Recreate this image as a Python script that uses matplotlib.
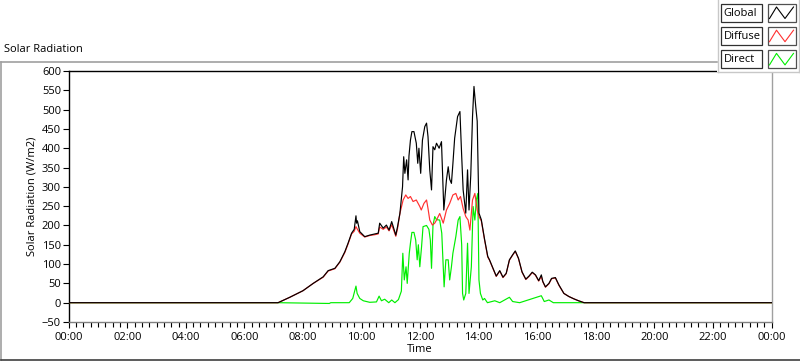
import matplotlib
matplotlib.use("Agg")
import matplotlib.pyplot as plt
from matplotlib.patches import Rectangle
from matplotlib.lines import Line2D
from matplotlib.ticker import MultipleLocator, FixedLocator

plt.rcParams['font.family'] = ['Open Sans', 'DejaVu Sans']

# ---- data (time in hours of day, radiation in W/m2) ----
global_t = [0.0, 7.15, 7.55, 8.0, 8.35, 8.69, 8.86, 9.09, 9.26, 9.43, 9.54, 9.66, 9.75, 9.81,
            9.83, 9.86, 9.94, 10.11, 10.28, 10.45, 10.57, 10.62, 10.74, 10.85, 10.94, 11.03,
            11.17, 11.23, 11.31, 11.40, 11.44, 11.48, 11.54, 11.59, 11.62, 11.67, 11.72, 11.79,
            11.87, 11.92, 11.96, 12.02, 12.08, 12.16, 12.22, 12.27, 12.33, 12.39, 12.44, 12.50,
            12.56, 12.65, 12.73, 12.81, 12.90, 12.96, 13.01, 13.07, 13.12, 13.18, 13.28, 13.36,
            13.42, 13.47, 13.56, 13.62, 13.67, 13.73, 13.79, 13.84, 13.90, 13.95, 14.01, 14.09,
            14.20, 14.31, 14.37, 14.49, 14.60, 14.72, 14.83, 14.94, 15.05, 15.16, 15.25, 15.36,
            15.48, 15.61, 15.72, 15.83, 15.94, 16.05, 16.14, 16.19, 16.28, 16.40, 16.49, 16.62,
            16.74, 16.91, 17.08, 17.25, 17.41, 17.60, 24.0]
global_v = [0, 0, 14, 31, 50, 67, 83, 89, 106, 132, 154, 180, 190, 225,
            206, 212, 184, 171, 175, 178, 180, 206, 193, 201, 188, 210,
            175, 197, 231, 300, 378, 335, 370, 318, 380, 421, 443, 443,
            413, 361, 400, 335, 421, 456, 465, 430, 344, 292, 404, 396,
            413, 400, 417, 240, 318, 352, 320, 309, 360, 426, 482, 495,
            380, 292, 232, 344, 240, 330, 482, 560, 508, 470, 232, 215,
            165, 120, 111, 89, 69, 83, 66, 76, 111, 124, 134, 115,
            80, 61, 69, 79, 72, 57, 72, 55, 41, 50, 63, 65,
            46, 24, 16, 10, 5, 0, 0]

diffuse_t = [0.0, 7.15, 7.55, 8.0, 8.35, 8.69, 8.86, 9.09, 9.26, 9.43, 9.54, 9.66, 9.75, 9.81,
             9.86, 9.94, 10.11, 10.28, 10.45, 10.57, 10.62, 10.74, 10.85, 10.94, 11.03, 11.17,
             11.23, 11.31, 11.42, 11.51, 11.59, 11.67, 11.76, 11.87, 11.99, 12.04, 12.13, 12.22,
             12.27, 12.33, 12.42, 12.50, 12.56, 12.67, 12.79, 12.90, 13.01, 13.12, 13.22, 13.30,
             13.38, 13.47, 13.56, 13.64, 13.70, 13.79, 13.87, 13.95, 14.01, 14.09, 14.20, 14.31,
             14.37, 14.49, 14.60, 14.72, 14.83, 14.94, 15.05, 15.16, 15.25, 15.36, 15.48, 15.61,
             15.72, 15.83, 15.94, 16.05, 16.14, 16.19, 16.28, 16.40, 16.49, 16.62, 16.74, 16.91,
             17.08, 17.25, 17.41, 17.60, 24.0]
diffuse_v = [0, 0, 14, 31, 50, 66, 82, 88, 105, 130, 152, 178, 185, 197,
             190, 180, 170, 174, 176, 178, 196, 190, 196, 186, 202, 172,
             192, 231, 266, 279, 270, 275, 262, 266, 249, 240, 257, 266,
             244, 214, 201, 206, 214, 231, 206, 240, 257, 279, 283, 266,
             275, 244, 223, 214, 188, 266, 283, 240, 223, 212,
             163, 118, 110, 88, 68, 82, 65, 75, 110, 123, 133, 114,
             79, 60, 68, 78, 71, 56, 68, 54, 40, 49, 62, 64,
             45, 24, 16, 10, 5, 0, 0]

direct_t = [0.0, 7.15, 8.9, 8.95, 9.58, 9.70, 9.81, 9.85, 9.94, 10.06, 10.28, 10.51, 10.60, 10.68,
            10.79, 10.93, 11.03, 11.14, 11.26, 11.36, 11.41, 11.46, 11.52, 11.56, 11.63, 11.67,
            11.72, 11.79, 11.85, 11.90, 11.94, 11.99, 12.05, 12.10, 12.22, 12.30, 12.35, 12.39,
            12.44, 12.50, 12.56, 12.67, 12.74, 12.79, 12.82, 12.88, 12.96, 13.01, 13.07, 13.12,
            13.22, 13.30, 13.36, 13.42, 13.45, 13.49, 13.56, 13.62, 13.67, 13.75, 13.81, 13.87,
            13.92, 13.97, 14.01, 14.06, 14.14, 14.20, 14.30, 14.55, 14.72, 15.05, 15.16, 15.40,
            16.14, 16.24, 16.40, 16.55, 17.60, 24.0]
direct_v = [0, 0, -2, 0, 0, 11, 43, 24, 11, 5, 1, 2, 17, 5,
            9, 0, 7, 0, 8, 30, 128, 59, 93, 50, 128, 154,
            182, 182, 162, 111, 150, 93, 145, 197, 200, 190, 162, 89,
            200, 223, 215, 214, 180, 93, 41, 111, 111, 59, 93, 128,
            171, 214, 223, 150, 24, 7, 24, 154, 24, 93, 249, 214,
            266, 283, 59, 24, 7, 11, 0, 5, 0, 14, 3, 0,
            18, 3, 7, 0, 0, 0]

x_tick_labels = ["00:00", "02:00", "04:00", "06:00", "08:00", "10:00", "12:00",
                 "14:00", "16:00", "18:00", "20:00", "22:00", "00:00"]

W, H = 800, 361
fig = plt.figure(figsize=(W / 100, H / 100), dpi=100)
fig.patch.set_facecolor("white")

L, R, T, B = 68.7, 771.5, 71.0, 322.0
ax = fig.add_axes([L / W, 1 - B / H, (R - L) / W, (B - T) / H])
ax.set_facecolor("white")

ax.plot(direct_t, direct_v, color="#00ee00", lw=0.85, zorder=3)
ax.plot(diffuse_t, diffuse_v, color="#ff3030", lw=0.85, zorder=4)
ax.plot(global_t, global_v, color="black", lw=0.85, zorder=5)

ax.set_xlim(0, 24)
ax.set_ylim(-50, 600)
ax.yaxis.set_major_locator(MultipleLocator(50))
ax.xaxis.set_major_locator(FixedLocator(list(range(0, 25, 2))))
ax.set_xticklabels(x_tick_labels)
ax.xaxis.set_minor_locator(MultipleLocator(0.25))

ax.tick_params(axis="y", which="major", length=4, width=0.8, pad=1.5, labelsize=8, direction="out")
ax.tick_params(axis="x", which="major", length=4, width=0.8, pad=3, labelsize=8, direction="out")
ax.tick_params(axis="x", which="minor", length=3.5, width=0.8, direction="out")

ax.spines["top"].set_color("black")
ax.spines["left"].set_color("black")
ax.spines["bottom"].set_color("#808080")
ax.spines["right"].set_color("#a0a0a0")
for s in ax.spines.values():
    s.set_linewidth(1.0)

ax.set_ylabel("Solar Radiation (W/m2)", fontsize=8, labelpad=3)
ax.set_xlabel("Time", fontsize=8, labelpad=1)

# overlay for frame, title and legend (pixel coords)
ov = fig.add_axes([0, 0, 1, 1], zorder=10)
ov.set_xlim(0, W)
ov.set_ylim(H, 0)
ov.axis("off")
ov.patch.set_alpha(0)

ov.plot([0.5, 0.5], [61.5, 359.5], color="#a0a0a0", lw=1.2)
ov.plot([0.5, 717], [61.5, 61.5], color="#a0a0a0", lw=1.2)
ov.plot([0.5, 800], [359.5, 359.5], color="#404040", lw=1.2)
ov.text(4, 50, "Solar Radiation", fontsize=8, va="center", ha="left")

# legend
ov.add_patch(Rectangle((717, 0), 83, 72, facecolor="white", edgecolor="none"))
ov.plot([717.5, 717.5], [0, 72], color="#c8c8c8", lw=1)
ov.plot([717.5, 800], [72, 72], color="#c8c8c8", lw=1)
ov.plot([799.2, 799.2], [0, 72], color="#c8c8c8", lw=1)
names = ["Global", "Diffuse", "Direct"]
cols = ["black", "#ff3030", "#00ee00"]
for i, (nm, c) in enumerate(zip(names, cols)):
    y0 = 4 + i * 23.2
    ov.add_patch(Rectangle((721, y0), 41, 18, facecolor="white", edgecolor="#303030", lw=0.9))
    ov.text(723.5, y0 + 9.5, nm, fontsize=8, va="center", ha="left")
    ov.add_patch(Rectangle((767.5, y0), 28.5, 18, facecolor="white", edgecolor="#505050", lw=0.9))
    ov.add_line(Line2D([769.5, 776.5, 785, 793.5], [y0 + 14.5, y0 + 3, y0 + 14.5, y0 + 3],
                       color=c, lw=0.8))

fig.savefig("out.png", dpi=100, facecolor="white")
